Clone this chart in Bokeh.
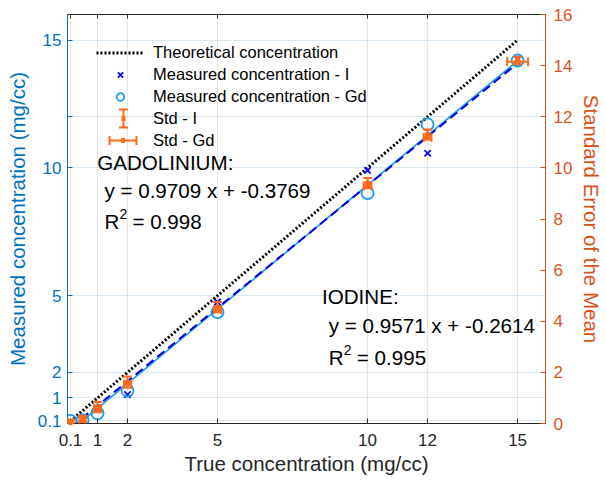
import numpy as np
from bokeh.plotting import figure
from bokeh.models import (Range1d, LinearAxis, FixedTicker, ColumnDataSource,
                          Whisker, TeeHead, Legend, LegendItem, Label)
from bokeh.embed import file_html
from bokeh.resources import INLINE

# ---------------- data ----------------
true_conc = [0.1, 0.5, 1, 2, 5, 10, 12, 15]
meas_I = [0.05, 0.1, 0.6, 1.13, 4.75, 9.9, 10.57, 14.25]
meas_Gd = [0.1, 0.12, 0.4, 1.29, 4.36, 9.01, 11.7, 14.2]
# standard error of the mean (right axis)
sem_I = [0.05, 0.18, 0.64, 1.62, 4.55, 9.4, 11.3, 14.2]
sem_I_err = [0.08, 0.12, 0.2, 0.22, 0.2, 0.2, 0.2, 0.15]
sem_Gd = [0.05, 0.15, 0.58, 1.55, 4.45, 9.3, 11.2, 14.15]
sem_Gd_err = [0.1, 0.1, 0.12, 0.12, 0.12, 0.13, 0.13, 0.35]

theo_x = [0.1, 15]
theo_y = [0.1, 15]
fit_x = [0.1, 15]
fit_I_slope, fit_I_icpt = 0.9571, -0.2614
fit_Gd_slope, fit_Gd_icpt = 0.9709, -0.3769

x_ticks = [0.1, 1, 2, 5, 10, 12, 15]
x_tick_labels = ["0.1", "1", "2", "5", "10", "12", "15"]
y_ticks = [0.1, 1, 2, 5, 10, 12, 15]
y_tick_labels = ["0.1", "1", "2", "5", "10", "", "15"]
right_ticks = [0, 2, 4, 6, 8, 10, 12, 14, 16]

# ---------------- styles ----------------
FONT = "Liberation Sans"
BLUE_AX = "#0072BD"
ORANGE_AX = "#D95319"
ORANGE = "#FF6A1A"
X_BLUE = "#0a0af0"
CIRC = "#1A9BF0"
DASH_BLUE = "#0000E0"
DARK = "#262626"
TICK_FS = "17px"
LABEL_FS = "20.5px"

p = figure(width=606, height=483, x_range=Range1d(0, 15.93), y_range=Range1d(0, 16),
           output_backend="svg", toolbar_location=None,
           min_border_left=67, min_border_right=58, min_border_top=14, min_border_bottom=60)
p.extra_y_ranges = {"right": Range1d(0, 16)}
p.outline_line_color = DARK
p.outline_line_width = 1
p.background_fill_color = "white"


def style_axis(ax, color, tick_in=5):
    ax.axis_line_color = color
    ax.major_tick_line_color = color
    ax.major_label_text_color = color
    ax.axis_label_text_color = color
    ax.major_tick_in = tick_in
    ax.major_tick_out = 0
    ax.minor_tick_line_color = None
    ax.major_label_text_font = FONT
    ax.major_label_text_font_size = TICK_FS
    ax.axis_label_text_font = FONT
    ax.axis_label_text_font_size = LABEL_FS
    ax.axis_label_text_font_style = "normal"


# x axis
xa = p.xaxis[0]
xa.ticker = FixedTicker(ticks=x_ticks)
xa.major_label_overrides = {t: l for t, l in zip(x_ticks, x_tick_labels)}
xa.axis_label = "True concentration (mg/cc)"
style_axis(xa, DARK)
xa.major_label_standoff = 10
xa.axis_label_standoff = 3

# left axis
ya = p.yaxis[0]
ya.ticker = FixedTicker(ticks=y_ticks)
ya.major_label_overrides = {t: l for t, l in zip(y_ticks, y_tick_labels)}
ya.axis_label = "Measured concentration (mg/cc)"
style_axis(ya, BLUE_AX)
ya.major_label_standoff = 6
ya.axis_label_standoff = 6

# right axis
ra = LinearAxis(y_range_name="right", ticker=FixedTicker(ticks=right_ticks),
                axis_label="Standard Error of the Mean")
style_axis(ra, ORANGE_AX)
ra.major_label_standoff = 8
ra.axis_label_standoff = 5
p.add_layout(ra, "right")

# top axis (ticks only, box)
ta = LinearAxis(ticker=FixedTicker(ticks=x_ticks))
ta.axis_line_color = DARK
ta.major_tick_line_color = DARK
ta.major_tick_in = 4
ta.major_tick_out = 0
ta.minor_tick_line_color = None
ta.major_label_overrides = {t: "" for t in x_ticks}
ta.major_label_text_font_size = "1px"
ta.major_label_standoff = 0
p.add_layout(ta, "above")

# grids
p.xgrid.ticker = FixedTicker(ticks=x_ticks)
p.xgrid.grid_line_color = DARK
p.xgrid.grid_line_alpha = 0.12
p.ygrid.ticker = FixedTicker(ticks=y_ticks)
p.ygrid.grid_line_color = BLUE_AX
p.ygrid.grid_line_alpha = 0.15

# ---------------- glyphs ----------------
fit_src = ColumnDataSource(dict(
    x=fit_x,
    yI=[fit_I_slope * v + fit_I_icpt for v in fit_x],
    yGd=[fit_Gd_slope * v + fit_Gd_icpt for v in fit_x],
))
p.line("x", "yGd", source=fit_src, line_color=CIRC, line_width=1.6)
p.line("x", "yI", source=fit_src, line_color=DASH_BLUE, line_width=2, line_dash="9 5")
theo_r = p.line(theo_x, theo_y, line_color="black", line_width=3, line_dash="2 2")

meas_src = ColumnDataSource(dict(x=true_conc, yI=meas_I, yGd=meas_Gd))
x_r = p.scatter("x", "yI", source=meas_src, marker="x", size=9,
                line_color=X_BLUE, line_width=1.8)
c_r = p.scatter("x", "yGd", source=meas_src, marker="circle", size=12,
                line_color=CIRC, fill_color=None, line_width=1.8)

sem_src = ColumnDataSource(dict(
    x=true_conc, yI=sem_I, yGd=sem_Gd,
    I_lo=[a - b for a, b in zip(sem_I, sem_I_err)],
    I_hi=[a + b for a, b in zip(sem_I, sem_I_err)],
    Gd_lo=[a - b for a, b in zip(true_conc, sem_Gd_err)],
    Gd_hi=[a + b for a, b in zip(true_conc, sem_Gd_err)],
))


def tee():
    return TeeHead(size=9, line_color=ORANGE, line_width=2)


for base, up, lo, dim in [("x", "I_hi", "I_lo", "height"), ("yGd", "Gd_hi", "Gd_lo", "width")]:
    p.add_layout(Whisker(base=base, upper=up, lower=lo, dimension=dim, source=sem_src,
                         y_range_name="right", line_color=ORANGE, line_width=2,
                         level="annotation", upper_head=tee(), lower_head=tee()))
p.scatter("x", "yI", source=sem_src, y_range_name="right", marker="circle", size=5,
          fill_color=ORANGE, line_color=ORANGE, level="overlay")
p.scatter("x", "yGd", source=sem_src, y_range_name="right", marker="circle", size=5,
          fill_color=ORANGE, line_color=ORANGE, level="overlay")

# invisible placeholder renderers so the error-bar entries get a legend row
nan_src = ColumnDataSource(dict(x=[np.nan], y=[np.nan]))
ph1 = p.scatter("x", "y", source=nan_src, marker="circle", size=1,
                fill_alpha=0, line_alpha=0)
ph2 = p.scatter("x", "y", source=nan_src, marker="circle", size=1,
                fill_alpha=0, line_alpha=0)

legend = Legend(items=[
    LegendItem(label="Theoretical concentration", renderers=[theo_r]),
    LegendItem(label="Measured concentration - I", renderers=[x_r]),
    LegendItem(label="Measured concentration - Gd", renderers=[c_r]),
    LegendItem(label="Std - I", renderers=[ph1]),
    LegendItem(label="Std - Gd", renderers=[ph2]),
], location="top_left")
legend.margin = 29
legend.padding = 8
legend.spacing = 3
legend.label_height = 19
legend.glyph_height = 19
legend.glyph_width = 48
legend.label_standoff = 9
legend.label_text_font = FONT
legend.label_text_font_size = "16.5px"
legend.label_text_color = "black"
legend.background_fill_alpha = 0
legend.border_line_color = None
p.add_layout(legend)

# legend keys for the error-bar entries, drawn in screen units (frame-relative)
key_v = ColumnDataSource(dict(b=[56], lo=[296], hi=[314]))
key_h = ColumnDataSource(dict(b=[283], lo=[42], hi=[69]))
key_dot_v = ColumnDataSource(dict(b=[305], lo=[54], hi=[58]))
key_dot_h = ColumnDataSource(dict(b=[283], lo=[53.5], hi=[57.5]))
for src, dim, heads, lw in [(key_v, "height", True, 2), (key_h, "width", True, 2),
                            (key_dot_v, "width", False, 5), (key_dot_h, "width", False, 5)]:
    p.add_layout(Whisker(base="b", lower="lo", upper="hi", dimension=dim, source=src,
                         base_units="screen", lower_units="screen", upper_units="screen",
                         line_color=ORANGE, line_width=lw, level="overlay",
                         upper_head=tee() if heads else None,
                         lower_head=tee() if heads else None))

# ---------------- annotations ----------------
ANN_FS = "20.6px"


def txt(x, y, s, size=ANN_FS, xo=0, yo=0):
    p.add_layout(Label(x=x, y=y, text=s, x_offset=xo, y_offset=yo, text_font=FONT,
                       text_font_size=size, text_color="black", text_baseline="middle",
                       text_align="left"))


txt(0.99, 10.21, "GADOLINIUM:")
txt(1.23, 9.12, "y = 0.9709 x + -0.3769")
txt(1.23, 7.90, "R")
txt(1.23, 7.90, "2", size="14px", xo=15, yo=8)
txt(1.23, 7.90, "= 0.998", xo=28)
txt(8.48, 4.97, "IODINE:")
txt(8.71, 3.83, "y = 0.9571 x + -0.2614")
txt(8.71, 2.58, "R")
txt(8.71, 2.58, "2", size="14px", xo=15, yo=8)
txt(8.71, 2.58, "= 0.995", xo=28)

open("out.html", "w").write(file_html(p, INLINE))
